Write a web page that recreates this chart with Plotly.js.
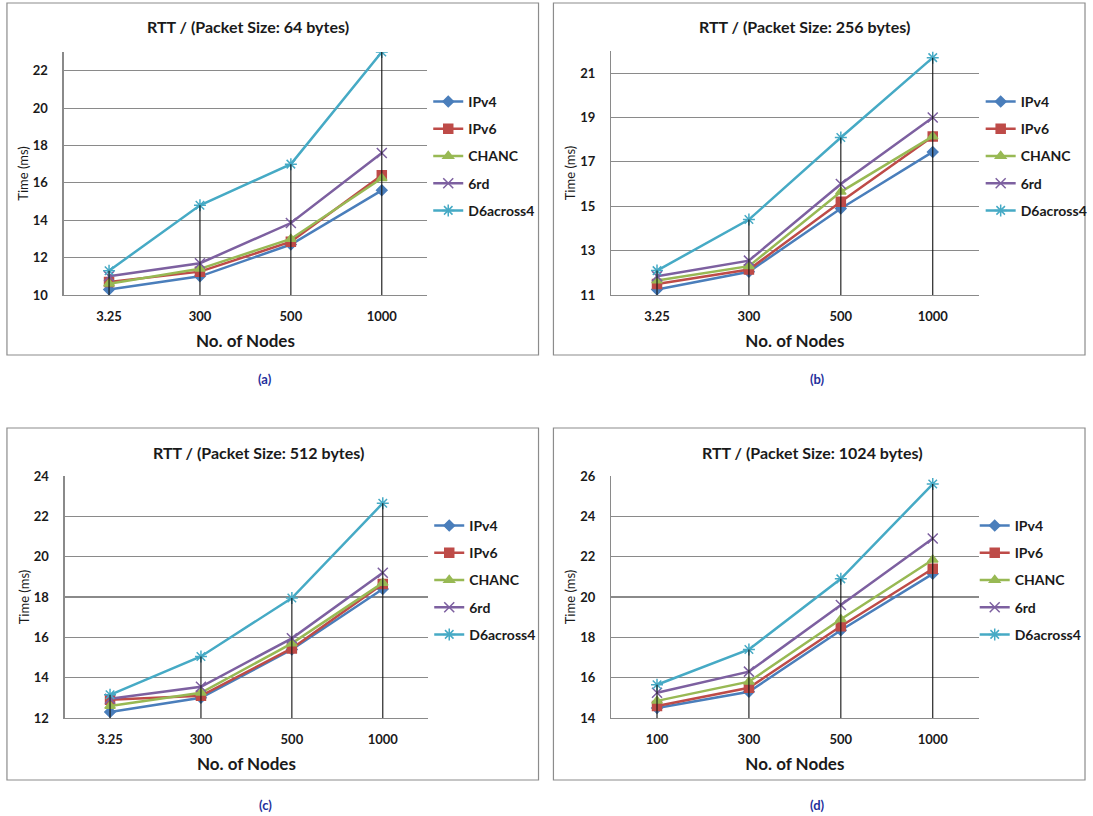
<!DOCTYPE html>
<html>
<head>
<meta charset="utf-8">
<script src="https://cdn.plot.ly/plotly-3.0.1.min.js"></script>
<style>
  html, body { margin: 0; padding: 0; background: #ffffff; }
  #chart { width: 1093px; height: 816px; }
</style>
</head>
<body>
<div id="chart"></div>
<script>
// ---------------- DATA ----------------
const seriesNames = ['IPv4', 'IPv6', 'CHANC', '6rd', 'D6across4'];
const nodesABC = ['3.25', '300', '500', '1000'];
const nodesD = ['100', '300', '500', '1000'];

const panelTitles = [
  'RTT / (Packet Size: 64 bytes)',
  'RTT / (Packet Size: 256 bytes)',
  'RTT / (Packet Size: 512 bytes)',
  'RTT / (Packet Size: 1024 bytes)'
];
const panelLabels = ['(a)', '(b)', '(c)', '(d)'];
const xAxisTitle = 'No. of Nodes';
const yAxisTitle = 'Time (ms)';

// Packet size 64 bytes
const ipv4_64  = [10.3, 11.0, 12.7, 15.6];
const ipv6_64  = [10.7, 11.25, 12.85, 16.4];
const chanc_64 = [10.6, 11.4, 13.0, 16.25];
const sixrd_64 = [11.0, 11.7, 13.85, 17.6];
const d6_64    = [11.3, 14.8, 17.0, 23.0];

// Packet size 256 bytes
const ipv4_256  = [11.25, 12.05, 14.9, 17.45];
const ipv6_256  = [11.5, 12.15, 15.2, 18.15];
const chanc_256 = [11.65, 12.3, 15.65, 18.15];
const sixrd_256 = [11.85, 12.55, 16.0, 19.0];
const d6_256    = [12.1, 14.4, 18.1, 21.7];

// Packet size 512 bytes
const ipv4_512  = [12.3, 13.0, 15.4, 18.4];
const ipv6_512  = [12.9, 13.1, 15.45, 18.65];
const chanc_512 = [12.6, 13.25, 15.7, 18.7];
const sixrd_512 = [12.95, 13.55, 15.95, 19.2];
const d6_512    = [13.15, 15.05, 17.95, 22.65];

// Packet size 1024 bytes
const ipv4_1024  = [14.5, 15.3, 18.35, 21.15];
const ipv6_1024  = [14.6, 15.5, 18.55, 21.4];
const chanc_1024 = [14.85, 15.8, 18.9, 21.85];
const sixrd_1024 = [15.25, 16.3, 19.6, 22.9];
const d6_1024    = [15.65, 17.4, 20.9, 25.6];

// ---------------- STYLE / LAYOUT CONFIG ----------------
const W = 1093, H = 816;
const dx = px => px / W;
const dy = px => 1 - px / H;

const colors = ['#4a7ebb', '#be4b48', '#98b954', '#7d60a0', '#46aac5'];
const symbols = ['diamond', 'square', 'triangle-up', 'x-thin-open', 'asterisk-open'];
const msizes = [8, 9, 9, 10, 10];
const FONT = 'Lato, "Liberation Sans", Arial, sans-serif';

const panels = [
  { cats: nodesABC, series: [ipv4_64, ipv6_64, chanc_64, sixrd_64, d6_64],
    yrange: [10, 23], xpx: [64, 430], ypx: [52, 295], border: [7, 3, 542, 355],
    title: [250, 26], label: [267, 379], legend: [431, 86] },
  { cats: nodesABC, series: [ipv4_256, ipv6_256, chanc_256, sixrd_256, d6_256],
    yrange: [11, 22], xpx: [615, 985], ypx: [51, 295], border: [557, 3, 1092, 355],
    title: [810, 26], label: [823, 379], legend: [987, 86] },
  { cats: nodesABC, series: [ipv4_512, ipv6_512, chanc_512, sixrd_512, d6_512],
    yrange: [12, 24], xpx: [65, 431], ypx: [476, 718], border: [7, 428, 542, 780],
    title: [260, 452], label: [267, 805], legend: [432, 510] },
  { cats: nodesD, series: [ipv4_1024, ipv6_1024, chanc_1024, sixrd_1024, d6_1024],
    yrange: [14, 26], xpx: [615, 985], ypx: [476, 718], border: [557, 428, 1092, 780],
    title: [818, 452], label: [823, 805], legend: [981, 510] }
];

const traces = [];
const layout = {
  width: W, height: H,
  margin: { l: 0, r: 0, t: 0, b: 0 },
  paper_bgcolor: '#ffffff', plot_bgcolor: '#ffffff',
  font: { family: FONT, color: '#1a1a1a' },
  showlegend: true,
  shapes: [], annotations: []
};

panels.forEach((p, i) => {
  const k = i === 0 ? '' : String(i + 1);
  const xa = 'x' + k, ya = 'y' + k;
  const lg = 'legend' + k;

  // series
  p.series.forEach((vals, s) => {
    traces.push({
      type: 'scatter', mode: 'lines+markers',
      name: seriesNames[s], x: p.cats, y: vals,
      xaxis: xa, yaxis: ya, legend: lg, legendgroup: 'g' + i + '_' + s,
      line: { color: colors[s], width: 2.5 },
      marker: { symbol: symbols[s], size: msizes[s], color: colors[s],
                line: { color: colors[s], width: 1.5 } },
      hoverinfo: 'x+y+name'
    });
  });

  // drop lines: from axis minimum to the highest series value at each category
  const dlx = [], dly = [];
  p.cats.forEach((c, j) => {
    const top = Math.max(...p.series.map(v => v[j]));
    dlx.push(c, c, null);
    dly.push(p.yrange[0], top, null);
  });
  traces.push({
    type: 'scatter', mode: 'lines', x: dlx, y: dly,
    xaxis: xa, yaxis: ya, showlegend: false, hoverinfo: 'skip',
    line: { color: '#111111', width: 1.1 }, connectgaps: false
  });

  layout['xaxis' + k] = {
    domain: [dx(p.xpx[0]), dx(p.xpx[1])], anchor: ya,
    type: 'category', categoryorder: 'array', categoryarray: p.cats,
    range: [-0.5, p.cats.length - 0.5],
    showline: true, linecolor: '#8a8a8a', linewidth: 1.2,
    showgrid: false, zeroline: false, ticks: '',
    ticklabelstandoff: 9,
    tickfont: { family: FONT, size: 13, color: '#1a1a1a', weight: 'bold' },
    title: { text: xAxisTitle, standoff: 12,
             font: { family: FONT, size: 17, color: '#1a1a1a', weight: 'bold' } },
    fixedrange: true
  };
  layout['yaxis' + k] = {
    domain: [dy(p.ypx[1]), dy(p.ypx[0])], anchor: xa,
    range: p.yrange, tick0: p.yrange[0], dtick: 2,
    showline: true, linecolor: '#8a8a8a', linewidth: 1.2,
    showgrid: true, gridcolor: '#8a8a8a', gridwidth: 1.1,
    zeroline: false, ticks: '', ticklabelstandoff: 12,
    tickfont: { family: FONT, size: 13, color: '#1a1a1a', weight: 'bold' },
    title: { text: yAxisTitle, standoff: 1,
             font: { family: FONT, size: 13, color: '#1a1a1a' } },
    fixedrange: true
  };
  layout[lg] = {
    x: dx(p.legend[0]), y: dy(p.legend[1]), xanchor: 'left', yanchor: 'top',
    bgcolor: 'rgba(0,0,0,0)', borderwidth: 0,
    traceorder: 'grouped', tracegroupgap: 6,
    font: { family: FONT, size: 14, color: '#1a1a1a', weight: 'bold' }
  };

  // panel frame
  layout.shapes.push({
    type: 'rect', xref: 'paper', yref: 'paper', layer: 'below',
    x0: dx(p.border[0]), x1: dx(p.border[2]), y0: dy(p.border[3]), y1: dy(p.border[1]),
    line: { color: '#8c8c8c', width: 1.2 }
  });
  // panel title
  layout.annotations.push({
    xref: 'paper', yref: 'paper', x: dx(p.title[0]), y: dy(p.title[1]),
    xanchor: 'center', yanchor: 'middle', showarrow: false,
    text: panelTitles[i],
    font: { family: FONT, size: 16, color: '#1a1a1a', weight: 'bold' }
  });
  // sub-figure label
  layout.annotations.push({
    xref: 'paper', yref: 'paper', x: dx(p.label[0]), y: dy(p.label[1]),
    xanchor: 'center', yanchor: 'middle', showarrow: false,
    text: panelLabels[i],
    font: { family: FONT, size: 13, color: '#1f2f9c', weight: 'bold' }
  });
});

Plotly.newPlot('chart', traces, layout, { displayModeBar: false, staticPlot: true });
</script>
</body>
</html>
